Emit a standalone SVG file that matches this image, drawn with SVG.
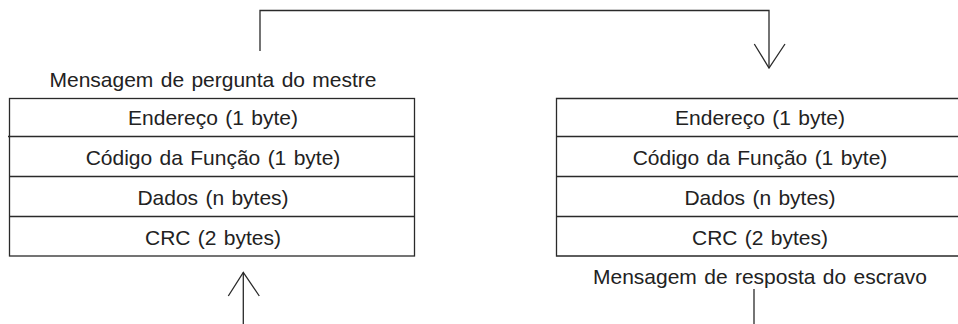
<svg xmlns="http://www.w3.org/2000/svg" width="958" height="324" viewBox="0 0 958 324">
<style>
.ln{fill:none;stroke:#2a2a2a;stroke-width:1.3}
.t{font-family:"Liberation Sans",Arial,sans-serif;font-size:21px;fill:#222;text-anchor:middle;word-spacing:1.5px}
</style>
<rect width="958" height="324" fill="#fff"/>
<g id="master">
<text class="t" x="213" y="86.5">Mensagem de pergunta do mestre</text>
<rect class="ln" x="9.5" y="98.5" width="405" height="157.5"/>
<line class="ln" x1="8" y1="136.5" x2="414.5" y2="136.5"/>
<line class="ln" x1="9.5" y1="176.5" x2="414.5" y2="176.5"/>
<line class="ln" x1="9.5" y1="216.5" x2="414.5" y2="216.5"/>
<text class="t" x="213" y="125">Endereço (1 byte)</text>
<text class="t" x="213" y="165">Código da Função (1 byte)</text>
<text class="t" x="213" y="205">Dados (n bytes)</text>
<text class="t" x="213" y="245">CRC (2 bytes)</text>
</g>
<g id="slave">
<path class="ln" d="M960,98.5H556.5V256H960"/>
<line class="ln" x1="556.5" y1="136.5" x2="958" y2="136.5"/>
<line class="ln" x1="556.5" y1="176.5" x2="958" y2="176.5"/>
<line class="ln" x1="556.5" y1="216.5" x2="958" y2="216.5"/>
<text class="t" x="760" y="125">Endereço (1 byte)</text>
<text class="t" x="760" y="165">Código da Função (1 byte)</text>
<text class="t" x="760" y="205">Dados (n bytes)</text>
<text class="t" x="760" y="245">CRC (2 bytes)</text>
<text class="t" x="760" y="283.5">Mensagem de resposta do escravo</text>
</g>
<g id="connectors">
<path class="ln" d="M260,51V10.5H769V68"/>
<path class="ln" d="M754.3,44L769,68L785,44"/>
<path class="ln" d="M243.3,324V272.5"/>
<path class="ln" d="M228.3,296L243.3,272.5L259.3,296"/>
<path class="ln" d="M754,289V324"/>
</g>
</svg>
